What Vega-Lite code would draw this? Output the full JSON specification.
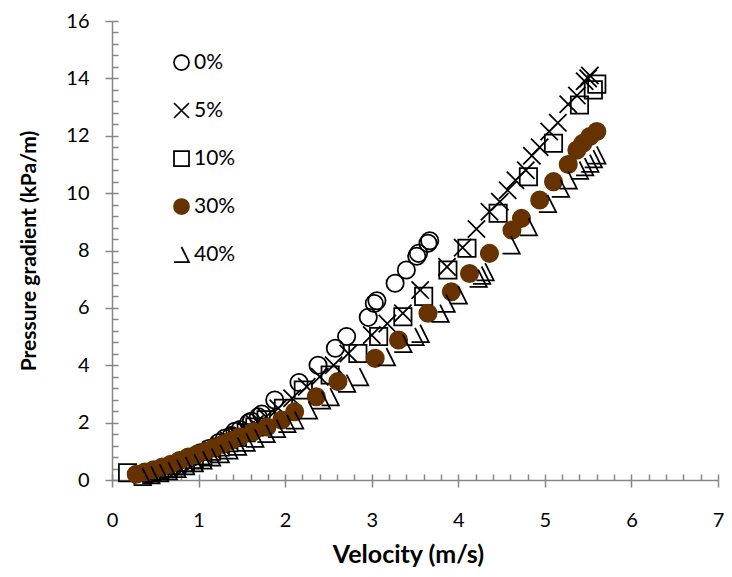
{
  "$schema": "https://vega.github.io/schema/vega-lite/v6.json",
  "width": 606,
  "height": 459,
  "autosize": "none",
  "padding": {"left": 112, "top": 21, "right": 14, "bottom": 97},
  "background": "white",
  "config": {
    "view": {"stroke": null},
    "font": "Lato",
    "axis": {"labelFont": "Lato", "titleFont": "Lato", "labelColor": "#000000", "titleColor": "#000000", "domainColor": "#868686", "tickColor": "#868686", "domainWidth": 1.5, "tickWidth": 1.5, "gridColor": "#868686", "gridWidth": 1.5, "gridOpacity": 1}
  },
  "data": {
    "values": [
      {"s": "0%", "v": 0.42, "p": 0.2}, {"s": "0%", "v": 0.52, "p": 0.28}, {"s": "0%", "v": 0.62, "p": 0.38}, {"s": "0%", "v": 0.72, "p": 0.5}, {"s": "0%", "v": 0.82, "p": 0.62}, {"s": "0%", "v": 0.92, "p": 0.78}, {"s": "0%", "v": 1.02, "p": 0.95}, {"s": "0%", "v": 1.12, "p": 1.1}, {"s": "0%", "v": 1.23, "p": 1.3}, {"s": "0%", "v": 1.3, "p": 1.45}, {"s": "0%", "v": 1.38, "p": 1.55}, {"s": "0%", "v": 1.42, "p": 1.7}, {"s": "0%", "v": 1.48, "p": 1.76}, {"s": "0%", "v": 1.58, "p": 2.0}, {"s": "0%", "v": 1.61, "p": 2.05}, {"s": "0%", "v": 1.69, "p": 2.2}, {"s": "0%", "v": 1.73, "p": 2.3}, {"s": "0%", "v": 1.88, "p": 2.79}, {"s": "0%", "v": 2.16, "p": 3.4}, {"s": "0%", "v": 2.38, "p": 4.0}, {"s": "0%", "v": 2.58, "p": 4.59}, {"s": "0%", "v": 2.71, "p": 5.0}, {"s": "0%", "v": 2.96, "p": 5.67}, {"s": "0%", "v": 3.03, "p": 6.15}, {"s": "0%", "v": 3.06, "p": 6.25}, {"s": "0%", "v": 3.27, "p": 6.86}, {"s": "0%", "v": 3.4, "p": 7.32}, {"s": "0%", "v": 3.52, "p": 7.8}, {"s": "0%", "v": 3.54, "p": 7.9}, {"s": "0%", "v": 3.65, "p": 8.25}, {"s": "0%", "v": 3.67, "p": 8.34},
      {"s": "5%", "v": 0.35, "p": 0.15}, {"s": "5%", "v": 0.45, "p": 0.22}, {"s": "5%", "v": 0.55, "p": 0.3}, {"s": "5%", "v": 0.65, "p": 0.4}, {"s": "5%", "v": 0.75, "p": 0.5}, {"s": "5%", "v": 0.85, "p": 0.62}, {"s": "5%", "v": 0.95, "p": 0.75}, {"s": "5%", "v": 1.05, "p": 0.9}, {"s": "5%", "v": 1.15, "p": 1.05}, {"s": "5%", "v": 1.25, "p": 1.2}, {"s": "5%", "v": 1.35, "p": 1.38}, {"s": "5%", "v": 1.45, "p": 1.55}, {"s": "5%", "v": 1.55, "p": 1.75}, {"s": "5%", "v": 1.65, "p": 1.95}, {"s": "5%", "v": 1.78, "p": 2.2}, {"s": "5%", "v": 1.92, "p": 2.5}, {"s": "5%", "v": 2.08, "p": 2.85}, {"s": "5%", "v": 2.25, "p": 3.25}, {"s": "5%", "v": 2.4, "p": 3.6}, {"s": "5%", "v": 2.56, "p": 4.0}, {"s": "5%", "v": 2.73, "p": 4.41}, {"s": "5%", "v": 3.0, "p": 5.05}, {"s": "5%", "v": 3.18, "p": 5.45}, {"s": "5%", "v": 3.36, "p": 5.81}, {"s": "5%", "v": 3.56, "p": 6.62}, {"s": "5%", "v": 3.87, "p": 7.43}, {"s": "5%", "v": 4.05, "p": 8.1}, {"s": "5%", "v": 4.21, "p": 8.75}, {"s": "5%", "v": 4.36, "p": 9.35}, {"s": "5%", "v": 4.48, "p": 9.7}, {"s": "5%", "v": 4.57, "p": 10.1}, {"s": "5%", "v": 4.66, "p": 10.45}, {"s": "5%", "v": 4.78, "p": 10.8}, {"s": "5%", "v": 4.85, "p": 11.3}, {"s": "5%", "v": 4.94, "p": 11.6}, {"s": "5%", "v": 5.05, "p": 12.15}, {"s": "5%", "v": 5.15, "p": 12.45}, {"s": "5%", "v": 5.27, "p": 13.1}, {"s": "5%", "v": 5.37, "p": 13.4}, {"s": "5%", "v": 5.46, "p": 13.9}, {"s": "5%", "v": 5.5, "p": 14.0}, {"s": "5%", "v": 5.52, "p": 14.1},
      {"s": "10%", "v": 0.18, "p": 0.25}, {"s": "10%", "v": 0.45, "p": 0.25}, {"s": "10%", "v": 0.55, "p": 0.32}, {"s": "10%", "v": 0.65, "p": 0.4}, {"s": "10%", "v": 0.75, "p": 0.5}, {"s": "10%", "v": 0.85, "p": 0.6}, {"s": "10%", "v": 0.95, "p": 0.72}, {"s": "10%", "v": 1.05, "p": 0.85}, {"s": "10%", "v": 1.15, "p": 1.0}, {"s": "10%", "v": 1.25, "p": 1.15}, {"s": "10%", "v": 1.35, "p": 1.3}, {"s": "10%", "v": 1.45, "p": 1.48}, {"s": "10%", "v": 1.55, "p": 1.65}, {"s": "10%", "v": 1.65, "p": 1.85}, {"s": "10%", "v": 1.78, "p": 2.1}, {"s": "10%", "v": 1.98, "p": 2.5}, {"s": "10%", "v": 2.21, "p": 3.14}, {"s": "10%", "v": 2.52, "p": 3.66}, {"s": "10%", "v": 2.84, "p": 4.41}, {"s": "10%", "v": 3.08, "p": 5.0}, {"s": "10%", "v": 3.36, "p": 5.69}, {"s": "10%", "v": 3.6, "p": 6.4}, {"s": "10%", "v": 3.88, "p": 7.32}, {"s": "10%", "v": 4.1, "p": 8.08}, {"s": "10%", "v": 4.46, "p": 9.3}, {"s": "10%", "v": 4.81, "p": 10.57}, {"s": "10%", "v": 5.1, "p": 11.74}, {"s": "10%", "v": 5.4, "p": 13.07}, {"s": "10%", "v": 5.56, "p": 13.6}, {"s": "10%", "v": 5.6, "p": 13.8},
      {"s": "30%", "v": 0.28, "p": 0.2}, {"s": "30%", "v": 0.38, "p": 0.28}, {"s": "30%", "v": 0.48, "p": 0.36}, {"s": "30%", "v": 0.58, "p": 0.45}, {"s": "30%", "v": 0.68, "p": 0.55}, {"s": "30%", "v": 0.78, "p": 0.68}, {"s": "30%", "v": 0.88, "p": 0.8}, {"s": "30%", "v": 0.98, "p": 0.9}, {"s": "30%", "v": 1.08, "p": 1.0}, {"s": "30%", "v": 1.18, "p": 1.12}, {"s": "30%", "v": 1.28, "p": 1.25}, {"s": "30%", "v": 1.38, "p": 1.38}, {"s": "30%", "v": 1.48, "p": 1.51}, {"s": "30%", "v": 1.63, "p": 1.68}, {"s": "30%", "v": 1.79, "p": 1.85}, {"s": "30%", "v": 1.96, "p": 2.09}, {"s": "30%", "v": 2.11, "p": 2.38}, {"s": "30%", "v": 2.36, "p": 2.9}, {"s": "30%", "v": 2.61, "p": 3.43}, {"s": "30%", "v": 3.04, "p": 4.24}, {"s": "30%", "v": 3.31, "p": 4.88}, {"s": "30%", "v": 3.65, "p": 5.81}, {"s": "30%", "v": 3.92, "p": 6.56}, {"s": "30%", "v": 4.13, "p": 7.2}, {"s": "30%", "v": 4.36, "p": 7.9}, {"s": "30%", "v": 4.62, "p": 8.71}, {"s": "30%", "v": 4.73, "p": 9.12}, {"s": "30%", "v": 4.94, "p": 9.76}, {"s": "30%", "v": 5.1, "p": 10.4}, {"s": "30%", "v": 5.27, "p": 11.0}, {"s": "30%", "v": 5.37, "p": 11.5}, {"s": "30%", "v": 5.44, "p": 11.74}, {"s": "30%", "v": 5.52, "p": 11.97}, {"s": "30%", "v": 5.6, "p": 12.15},
      {"s": "40%", "v": 0.35, "p": 0.12}, {"s": "40%", "v": 0.45, "p": 0.18}, {"s": "40%", "v": 0.55, "p": 0.25}, {"s": "40%", "v": 0.65, "p": 0.32}, {"s": "40%", "v": 0.75, "p": 0.4}, {"s": "40%", "v": 0.85, "p": 0.5}, {"s": "40%", "v": 0.95, "p": 0.6}, {"s": "40%", "v": 1.05, "p": 0.7}, {"s": "40%", "v": 1.15, "p": 0.8}, {"s": "40%", "v": 1.25, "p": 0.92}, {"s": "40%", "v": 1.35, "p": 1.05}, {"s": "40%", "v": 1.45, "p": 1.18}, {"s": "40%", "v": 1.55, "p": 1.32}, {"s": "40%", "v": 1.65, "p": 1.46}, {"s": "40%", "v": 1.78, "p": 1.62}, {"s": "40%", "v": 1.9, "p": 1.8}, {"s": "40%", "v": 2.02, "p": 1.97}, {"s": "40%", "v": 2.11, "p": 2.09}, {"s": "40%", "v": 2.27, "p": 2.44}, {"s": "40%", "v": 2.42, "p": 2.79}, {"s": "40%", "v": 2.52, "p": 2.9}, {"s": "40%", "v": 2.71, "p": 3.37}, {"s": "40%", "v": 2.86, "p": 3.6}, {"s": "40%", "v": 3.17, "p": 4.3}, {"s": "40%", "v": 3.36, "p": 4.76}, {"s": "40%", "v": 3.5, "p": 5.0}, {"s": "40%", "v": 3.56, "p": 5.11}, {"s": "40%", "v": 3.79, "p": 5.81}, {"s": "40%", "v": 3.86, "p": 6.16}, {"s": "40%", "v": 4.0, "p": 6.45}, {"s": "40%", "v": 4.23, "p": 7.03}, {"s": "40%", "v": 4.27, "p": 7.14}, {"s": "40%", "v": 4.31, "p": 7.26}, {"s": "40%", "v": 4.61, "p": 8.19}, {"s": "40%", "v": 4.81, "p": 8.83}, {"s": "40%", "v": 5.03, "p": 9.64}, {"s": "40%", "v": 5.18, "p": 10.17}, {"s": "40%", "v": 5.27, "p": 10.46}, {"s": "40%", "v": 5.4, "p": 10.8}, {"s": "40%", "v": 5.46, "p": 10.92}, {"s": "40%", "v": 5.52, "p": 11.04}, {"s": "40%", "v": 5.56, "p": 11.2}, {"s": "40%", "v": 5.6, "p": 11.33}
    ]
  },
  "mark": {"type": "point", "size": 300, "strokeWidth": 1.75, "opacity": 1},
  "encoding": {
    "x": {"field": "v", "type": "quantitative", "scale": {"domain": [0, 7], "nice": false, "zero": true},
      "axis": {"orient": "bottom", "grid": true, "gridDash": [0, 453, 6, 1000],
        "values": [0, 0.2, 0.4, 0.6, 0.8, 1, 1.2, 1.4, 1.6, 1.8, 2, 2.2, 2.4, 2.6, 2.8, 3, 3.2, 3.4, 3.6, 3.8, 4, 4.2, 4.4, 4.6, 4.8, 5, 5.2, 5.4, 5.6, 5.8, 6, 6.2, 6.4, 6.6, 6.8, 7],
        "labelExpr": "abs(datum.value - round(datum.value)) < 0.001 ? format(datum.value, 'd') : ''",
        "tickOpacity": {"condition": {"test": "abs(datum.value - round(datum.value)) < 0.001", "value": 1}, "value": 0},
        "tickSize": 7, "labelFontSize": 20, "labelPadding": 23, "labelOverlap": false, "labelFlush": false,
        "title": "Velocity (m/s)", "titleFontSize": 25, "titleFontWeight": "bold", "titlePadding": 12, "titleX": 296}},
    "y": {"field": "p", "type": "quantitative", "scale": {"domain": [0, 16], "nice": false, "zero": true},
      "axis": {"orient": "left", "grid": true, "gridDash": [6, 2000],
        "values": [0, 0.4, 0.8, 1.2, 1.6, 2, 2.4, 2.8, 3.2, 3.6, 4, 4.4, 4.8, 5.2, 5.6, 6, 6.4, 6.8, 7.2, 7.6, 8, 8.4, 8.8, 9.2, 9.6, 10, 10.4, 10.8, 11.2, 11.6, 12, 12.4, 12.8, 13.2, 13.6, 14, 14.4, 14.8, 15.2, 15.6, 16],
        "labelExpr": "abs(datum.value / 2 - round(datum.value / 2)) < 0.001 ? format(datum.value, 'd') : ''",
        "tickOpacity": {"condition": {"test": "abs(datum.value / 2 - round(datum.value / 2)) < 0.001", "value": 1}, "value": 0},
        "tickSize": 7, "labelFontSize": 20, "labelPadding": 16, "labelOverlap": false, "labelFlush": false,
        "title": "Pressure gradient (kPa/m)", "titleFontSize": 21, "titleFontWeight": "bold", "titlePadding": 26}},
    "shape": {"field": "s", "type": "nominal", "scale": {"domain": ["0%", "5%", "10%", "30%", "40%"], "range": ["circle", "M -1 -1 L 1 1 M -1 1 L 1 -1", "square", "circle", "M -1 1 L 1 1 L 0 -1"]}, "legend": {"title": null}},
    "fill": {"field": "s", "type": "nominal", "scale": {"domain": ["0%", "5%", "10%", "30%", "40%"], "range": ["transparent", "transparent", "transparent", "#663300", "transparent"]}, "legend": {"title": null}},
    "stroke": {"field": "s", "type": "nominal", "scale": {"domain": ["0%", "5%", "10%", "30%", "40%"], "range": ["#000000", "#000000", "#000000", "#663300", "#000000"]}, "legend": {"title": null, "orient": "none", "legendX": 59, "legendY": 31, "padding": 0, "direction": "vertical", "symbolSize": 225, "symbolStrokeWidth": 1.75, "labelFontSize": 21, "labelFont": "Lato", "labelColor": "#000000", "labelOffset": 2, "rowPadding": 25}}
  }
}
